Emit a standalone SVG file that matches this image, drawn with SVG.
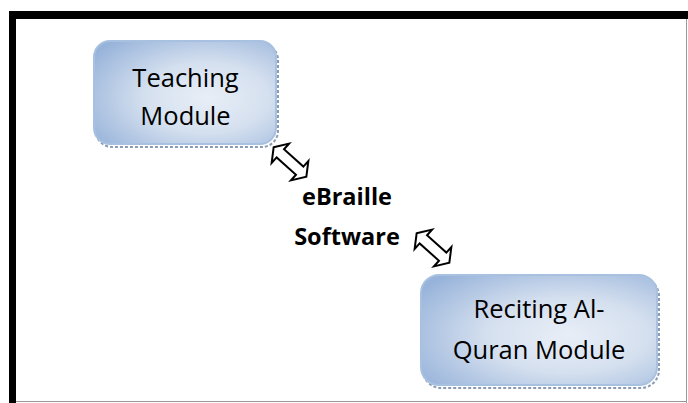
<svg xmlns="http://www.w3.org/2000/svg" width="688" height="403" viewBox="0 0 688 403">
<style>
.box{fill:url(#g);stroke:#a9c1e0;stroke-width:2}
.sh{fill:none;stroke:#8b9bb3;stroke-width:2;stroke-dasharray:3 2}
.t{font-family:"Open Sans","Liberation Sans",sans-serif;font-size:25.5px;fill:#000;text-anchor:middle}
.b{font-family:"Open Sans","Liberation Sans",sans-serif;font-size:23.5px;font-weight:bold;fill:#000;text-anchor:middle}
.arr{fill:#fff;stroke:#000;stroke-width:2;stroke-linejoin:miter}
</style>
<defs>
<radialGradient id="g" cx="0.62" cy="0.55" r="0.75">
<stop offset="0" stop-color="#e8eef7"/>
<stop offset="0.45" stop-color="#d5e0ef"/>
<stop offset="1" stop-color="#97b3da"/>
</radialGradient>
</defs>
<rect width="688" height="403" fill="#fff"/>
<g id="frame">
<rect x="9" y="11" width="679" height="8" fill="#000"/>
<rect x="9" y="11" width="7" height="392" fill="#000"/>
<line x1="686.5" y1="19" x2="686.5" y2="403" stroke="#999" stroke-width="1"/>
<line x1="16" y1="401.5" x2="687" y2="401.5" stroke="#999" stroke-width="1"/>
</g>
<g id="teaching">
<rect class="sh" x="96" y="44" width="182" height="103" rx="16"/>
<rect class="box" x="94" y="41" width="182" height="103" rx="16"/>
<text class="t" x="185.5" y="87">Teaching</text>
<text class="t" x="185.5" y="125">Module</text>
</g>
<g id="reciting">
<rect class="sh" x="423" y="278" width="236" height="110" rx="18"/>
<rect class="box" x="421" y="275" width="236" height="110" rx="18"/>
<text class="t" x="539" y="318">Reciting Al-</text>
<text class="t" x="539" y="359">Quran Module</text>
</g>
<g id="ebraille">
<text class="b" x="347" y="205">eBraille</text>
<text class="b" x="347" y="245">Software</text>
</g>
<g id="connectors">
<polygon class="arr" transform="translate(290,162) rotate(42)" points="-22,0 -13,-13 -13,-5.5 13,-5.5 13,-13 22,0 13,13 13,5.5 -13,5.5 -13,13"/>
<polygon class="arr" transform="translate(433,248) rotate(42)" points="-22,0 -13,-13 -13,-5.5 13,-5.5 13,-13 22,0 13,13 13,5.5 -13,5.5 -13,13"/>
</g>
</svg>
